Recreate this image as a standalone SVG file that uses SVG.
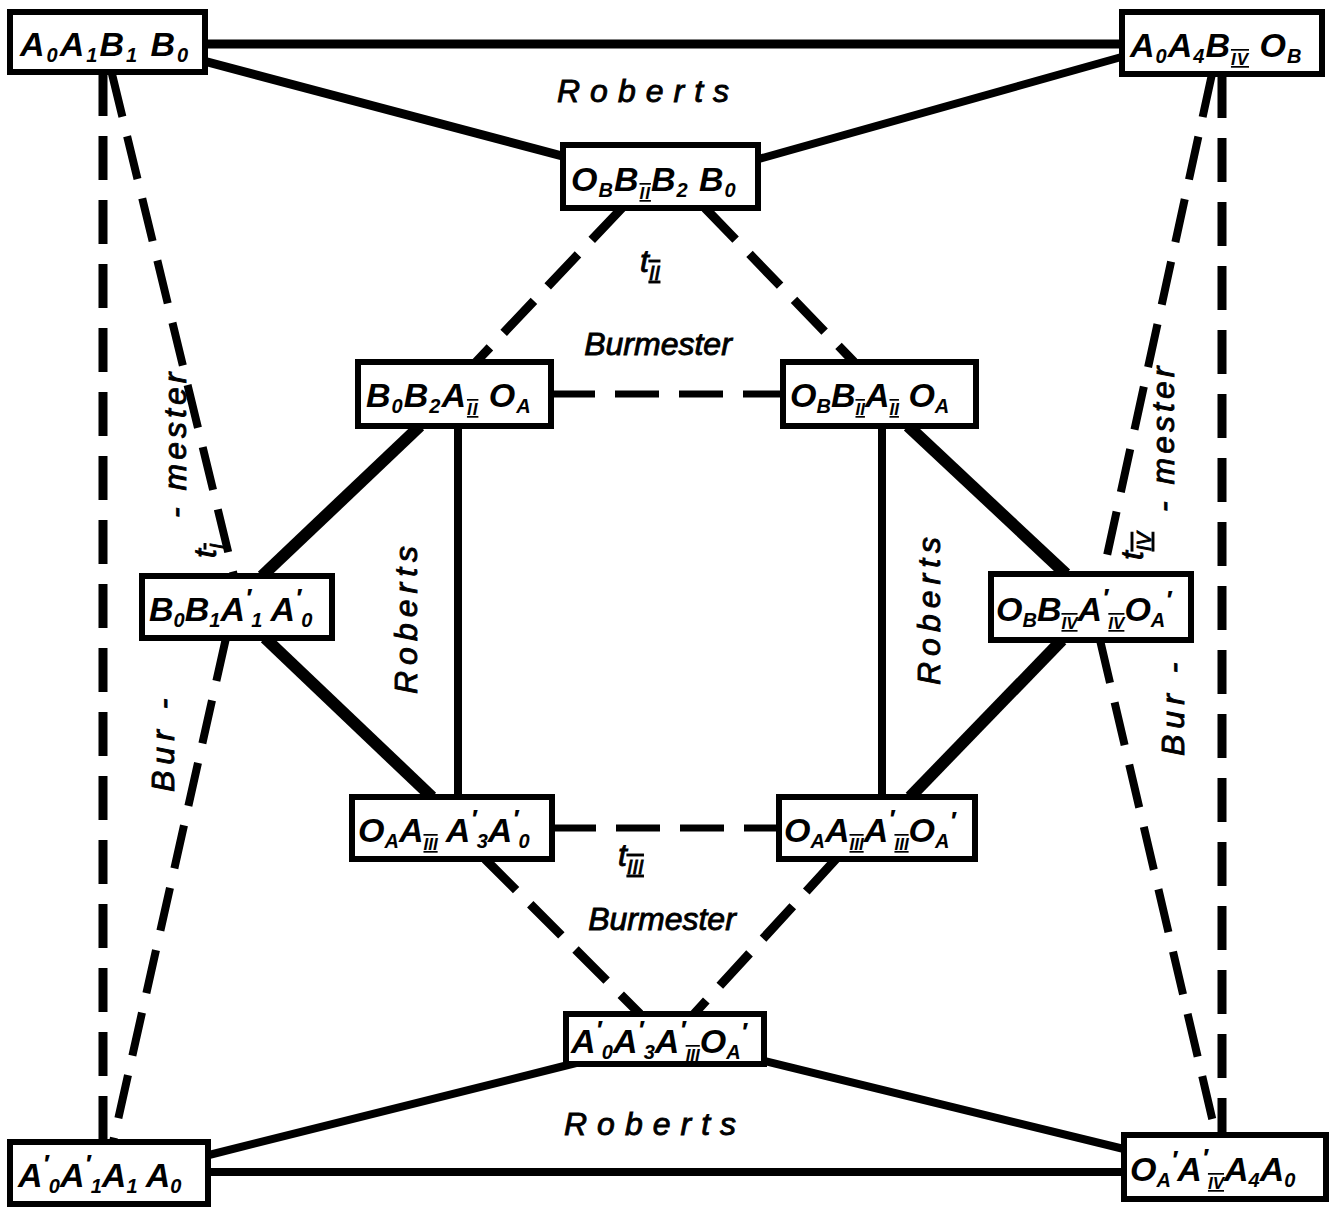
<svg xmlns="http://www.w3.org/2000/svg" width="1333" height="1209" viewBox="0 0 1333 1209">
<style>
.box{fill:#fff;stroke:#000;stroke-width:6}
.nl{font-family:"Liberation Sans",Arial,sans-serif;font-style:italic;font-weight:bold;font-size:34px;fill:#000}
.sub{font-size:20px}
.sup{font-size:26px}
.rn{font-size:17px;text-decoration:underline overline}
.lbl{font-family:"Liberation Sans",Arial,sans-serif;font-style:italic;font-size:32px;fill:#000;stroke:#000;stroke-width:0.9}
.s{stroke:#000;fill:none;stroke-linecap:butt}
.d{stroke:#000;fill:none;stroke-dasharray:44 20}
</style>
<rect width="1333" height="1209" fill="#fff"/>
<g id="connectors">
<line class="s" x1="200" y1="44" x2="1125" y2="44" stroke-width="9"/>
<line class="s" x1="200" y1="60" x2="566" y2="157" stroke-width="9"/>
<line class="s" x1="1125" y1="56" x2="755" y2="160" stroke-width="8"/>
<line class="s" x1="205" y1="1172" x2="1128" y2="1172" stroke-width="8"/>
<line class="s" x1="205" y1="1156" x2="580" y2="1062" stroke-width="8"/>
<line class="s" x1="1128" y1="1150" x2="760" y2="1060" stroke-width="8"/>
<line class="d" x1="103" y1="72" x2="103" y2="1142" stroke-width="9" stroke-dasharray="48 22"/>
<line class="d" x1="1222" y1="74" x2="1222" y2="1135" stroke-width="9" stroke-dasharray="48 22"/>
<line class="d" x1="112" y1="74" x2="234" y2="576" stroke-width="8" stroke-dasharray="120 30"/>
<line class="d" x1="226" y1="638" x2="113" y2="1142" stroke-width="8" stroke-dasharray="50 24"/>
<line class="d" x1="1212" y1="74" x2="1103" y2="574" stroke-width="8" stroke-dasharray="50 24"/>
<line class="d" x1="1100" y1="640" x2="1216" y2="1135" stroke-width="8" stroke-dasharray="50 24"/>
<line class="d" x1="622" y1="208" x2="476" y2="362" stroke-width="9" stroke-dasharray="60 25"/>
<line class="d" x1="705" y1="208" x2="854" y2="362" stroke-width="9" stroke-dasharray="50 25"/>
<line class="d" x1="551" y1="394" x2="783" y2="394" stroke-width="7" stroke-dasharray="80 28"/>
<line class="d" x1="552" y1="828" x2="779" y2="828" stroke-width="7" stroke-dasharray="55 40"/>
<line class="d" x1="485" y1="859" x2="640" y2="1014" stroke-width="9" stroke-dasharray="45 25"/>
<line class="d" x1="836" y1="859" x2="694" y2="1014" stroke-width="9" stroke-dasharray="45 25"/>
<line class="s" x1="420" y1="426" x2="262" y2="576" stroke-width="12"/>
<line class="s" x1="908" y1="426" x2="1066" y2="574" stroke-width="12"/>
<line class="s" x1="265" y1="638" x2="432" y2="797" stroke-width="12"/>
<line class="s" x1="1062" y1="640" x2="910" y2="797" stroke-width="12"/>
<line class="s" x1="458" y1="426" x2="458" y2="797" stroke-width="8"/>
<line class="s" x1="882" y1="426" x2="882" y2="797" stroke-width="8"/>
</g>
<g id="labels">
<text class="lbl" x="648" y="102" text-anchor="middle" letter-spacing="10">Roberts</text>
<text class="lbl" x="640" y="272">t<tspan class="sub" dy="8" text-decoration="underline overline">II</tspan></text>
<text class="lbl" x="658" y="355" text-anchor="middle" font-size="33">Burmester</text>
<text class="lbl" x="618" y="866">t<tspan class="sub" dy="8" text-decoration="underline overline">III</tspan></text>
<text class="lbl" x="662" y="930" text-anchor="middle" font-size="30">Burmester</text>
<text class="lbl" x="655" y="1135" text-anchor="middle" letter-spacing="10">Roberts</text>
<text class="lbl" transform="translate(417,617) rotate(-90)" text-anchor="middle" letter-spacing="6">Roberts</text>
<text class="lbl" transform="translate(940,608) rotate(-90)" text-anchor="middle" letter-spacing="6">Roberts</text>
<text class="lbl" transform="translate(174,792) rotate(-90)" letter-spacing="6">Bur -</text>
<text class="lbl" transform="translate(186,518) rotate(-90)" letter-spacing="4">- mester</text>
<text class="lbl" transform="translate(216,558) rotate(-90)">t<tspan class="sub" dy="8" text-decoration="underline overline">I</tspan></text>
<text class="lbl" transform="translate(1143,560) rotate(-90)">t<tspan class="sub" dy="8" text-decoration="underline overline">IV</tspan></text>
<text class="lbl" transform="translate(1174,512) rotate(-90)" letter-spacing="4">- mester</text>
<text class="lbl" transform="translate(1184,756) rotate(-90)" letter-spacing="6">Bur -</text>
</g>
<g id="n1"><rect class="box" x="10" y="12" width="195" height="60"/>
<text class="nl" x="20" y="56" letter-spacing="2">A<tspan class="sub" dy="6">0</tspan><tspan dy="-6">A</tspan><tspan class="sub" dy="6">1</tspan><tspan dy="-6">B</tspan><tspan class="sub" dy="6">1</tspan><tspan dy="-6"> B</tspan><tspan class="sub" dy="6">0</tspan></text></g>
<g id="n2"><rect class="box" x="1122" y="12" width="200" height="62"/>
<text class="nl" x="1130" y="57" letter-spacing="1">A<tspan class="sub" dy="6">0</tspan><tspan dy="-6">A</tspan><tspan class="sub" dy="6">4</tspan><tspan dy="-6">B</tspan><tspan class="rn" dy="8">IV</tspan><tspan dy="-8"> O</tspan><tspan class="sub" dy="6">B</tspan></text></g>
<g id="n3"><rect class="box" x="563" y="145" width="195" height="63"/>
<text class="nl" x="571" y="191" letter-spacing="1">O<tspan class="sub" dy="6">B</tspan><tspan dy="-6">B</tspan><tspan class="rn" dy="8">II</tspan><tspan dy="-8">B</tspan><tspan class="sub" dy="6">2</tspan><tspan dy="-6"> B</tspan><tspan class="sub" dy="6">0</tspan></text></g>
<g id="n4"><rect class="box" x="358" y="362" width="193" height="64"/>
<text class="nl" x="366" y="407" letter-spacing="1">B<tspan class="sub" dy="6">0</tspan><tspan dy="-6">B</tspan><tspan class="sub" dy="6">2</tspan><tspan dy="-6">A</tspan><tspan class="rn" dy="8">II</tspan><tspan dy="-8"> O</tspan><tspan class="sub" dy="6">A</tspan></text></g>
<g id="n5"><rect class="box" x="783" y="362" width="193" height="64"/>
<text class="nl" x="790" y="407">O<tspan class="sub" dy="6">B</tspan><tspan dy="-6">B</tspan><tspan class="rn" dy="8">II</tspan><tspan dy="-8">A</tspan><tspan class="rn" dy="8">II</tspan><tspan dy="-8"> O</tspan><tspan class="sub" dy="6">A</tspan></text></g>
<g id="n6"><rect class="box" x="142" y="576" width="190" height="62"/>
<text class="nl" x="149" y="621">B<tspan class="sub" dy="6">0</tspan><tspan dy="-6">B</tspan><tspan class="sub" dy="6">1</tspan><tspan dy="-6">A</tspan><tspan class="sup" dy="-14">′</tspan><tspan class="sub" dy="20">1</tspan><tspan dy="-6"> A</tspan><tspan class="sup" dy="-14">′</tspan><tspan class="sub" dy="20">0</tspan></text></g>
<g id="n7"><rect class="box" x="991" y="574" width="200" height="66"/>
<text class="nl" x="996" y="621">O<tspan class="sub" dy="6">B</tspan><tspan dy="-6">B</tspan><tspan class="rn" dy="8">IV</tspan><tspan dy="-8">A</tspan><tspan class="sup" dy="-14">′</tspan><tspan class="rn" dy="22">IV</tspan><tspan dy="-8">O</tspan><tspan class="sub" dy="6">A</tspan><tspan class="sup" dy="-18">′</tspan></text></g>
<g id="n8"><rect class="box" x="352" y="797" width="200" height="62"/>
<text class="nl" x="358" y="842">O<tspan class="sub" dy="6">A</tspan><tspan dy="-6">A</tspan><tspan class="rn" dy="8">III</tspan><tspan dy="-8"> A</tspan><tspan class="sup" dy="-14">′</tspan><tspan class="sub" dy="20">3</tspan><tspan dy="-6">A</tspan><tspan class="sup" dy="-14">′</tspan><tspan class="sub" dy="20">0</tspan></text></g>
<g id="n9"><rect class="box" x="779" y="797" width="196" height="62"/>
<text class="nl" x="784" y="842">O<tspan class="sub" dy="6">A</tspan><tspan dy="-6">A</tspan><tspan class="rn" dy="8">III</tspan><tspan dy="-8">A</tspan><tspan class="sup" dy="-14">′</tspan><tspan class="rn" dy="22">III</tspan><tspan dy="-8">O</tspan><tspan class="sub" dy="6">A</tspan><tspan class="sup" dy="-18">′</tspan></text></g>
<g id="n10"><rect class="box" x="566" y="1014" width="198" height="50"/>
<text class="nl" x="571" y="1053">A<tspan class="sup" dy="-14">′</tspan><tspan class="sub" dy="20">0</tspan><tspan dy="-6">A</tspan><tspan class="sup" dy="-14">′</tspan><tspan class="sub" dy="20">3</tspan><tspan dy="-6">A</tspan><tspan class="sup" dy="-14">′</tspan><tspan class="rn" dy="22">III</tspan><tspan dy="-8">O</tspan><tspan class="sub" dy="6">A</tspan><tspan class="sup" dy="-18">′</tspan></text></g>
<g id="n11"><rect class="box" x="10" y="1142" width="198" height="62"/>
<text class="nl" x="18" y="1187">A<tspan class="sup" dy="-14">′</tspan><tspan class="sub" dy="20">0</tspan><tspan dy="-6">A</tspan><tspan class="sup" dy="-14">′</tspan><tspan class="sub" dy="20">1</tspan><tspan dy="-6">A</tspan><tspan class="sub" dy="6">1</tspan><tspan dy="-6"> A</tspan><tspan class="sub" dy="6">0</tspan></text></g>
<g id="n12"><rect class="box" x="1124" y="1135" width="202" height="64"/>
<text class="nl" x="1130" y="1181">O<tspan class="sub" dy="6">A</tspan><tspan class="sup" dy="-18">′</tspan><tspan dy="12">A</tspan><tspan class="sup" dy="-14">′</tspan><tspan class="rn" dy="22">IV</tspan><tspan dy="-8">A</tspan><tspan class="sub" dy="6">4</tspan><tspan dy="-6">A</tspan><tspan class="sub" dy="6">0</tspan></text></g>
</svg>
